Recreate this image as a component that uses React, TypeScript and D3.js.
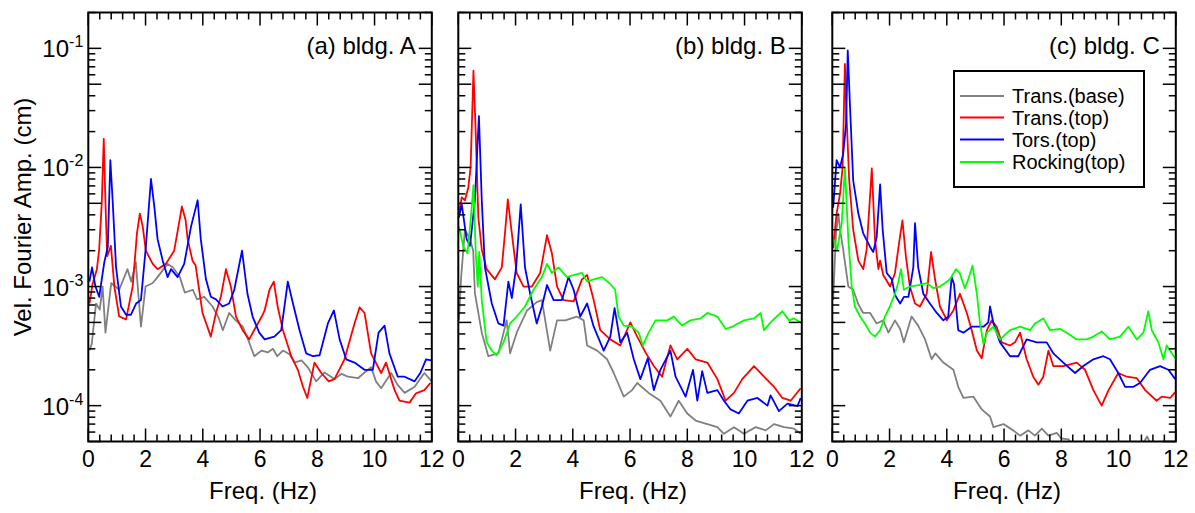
import React from "react";
import * as d3 from "d3";

// [freq (Hz), velocity Fourier amplitude (cm)]
const aBase = [[0.04,2.9e-4],[0.12,3.3e-4],[0.27,7.2e-4],[0.4,6.4e-4],[0.5,1e-3],[0.6,4.1e-4],[0.8,1.07e-3],[1.08,9.4e-4],[1.37,1.4e-3],[1.5,1.1e-3],[1.66,1.6e-3],[1.84,4.6e-4],[2.0,1e-3],[2.25,1.07e-3],[2.42,1.2e-3],[2.77,1.55e-3],[2.95,1.45e-3],[3.2,1.2e-3],[3.37,8.9e-4],[3.65,9.4e-4],[3.8,7.8e-4],[4.05,8.2e-4],[4.34,6.8e-4],[4.55,5.5e-4],[4.7,4.3e-4],[4.92,6e-4],[5.15,5.2e-4],[5.4,4.6e-4],[5.6,3.5e-4],[5.8,2.6e-4],[5.93,2.75e-4],[6.06,2.9e-4],[6.27,2.8e-4],[6.45,3.0e-4],[6.6,2.6e-4],[6.8,2.9e-4],[7.03,2.7e-4],[7.2,2.3e-4],[7.45,2.4e-4],[7.67,2.1e-4],[7.96,1.6e-4],[8.25,1.9e-4],[8.6,1.67e-4],[8.85,1.85e-4],[9.07,1.75e-4],[9.42,1.7e-4],[9.65,1.9e-4],[9.88,2.1e-4],[10.05,1.6e-4],[10.23,1.4e-4],[10.58,1.88e-4],[10.8,1.5e-4],[11.05,1.28e-4],[11.4,1.44e-4],[11.74,1.88e-4],[12,1.6e-4]];
const aTop = [[0.04,7.2e-4],[0.15,1.05e-3],[0.3,1.4e-3],[0.38,2.05e-3],[0.47,5e-3],[0.54,1.74e-2],[0.6,5e-3],[0.66,1.8e-3],[0.79,2.2e-3],[0.91,1e-3],[1.08,5.6e-4],[1.32,5.3e-4],[1.55,1e-3],[1.7,2.8e-3],[1.8,4.1e-3],[1.9,3.2e-3],[2.01,2e-3],[2.25,1.55e-3],[2.42,1.4e-3],[2.71,1.55e-3],[3.0,2e-3],[3.15,3.2e-3],[3.27,4.7e-3],[3.4,3.6e-3],[3.47,2.5e-3],[3.64,1.65e-3],[3.75,1.5e-3],[3.99,6e-4],[4.28,3.8e-4],[4.46,6e-4],[4.63,8.2e-4],[4.81,1.4e-3],[4.98,1e-3],[5.16,5.6e-4],[5.39,4.3e-4],[5.62,3.6e-4],[5.86,4.6e-4],[6.06,5.6e-4],[6.16,6.3e-4],[6.33,9.4e-4],[6.48,1.1e-3],[6.62,6.7e-4],[6.8,4.3e-4],[7.09,2.6e-4],[7.32,2e-4],[7.5,1.44e-4],[7.65,1.16e-4],[7.9,2.3e-4],[8.14,1.88e-4],[8.4,1.6e-4],[8.6,1.67e-4],[8.95,2.45e-4],[9.3,4.9e-4],[9.48,6.7e-4],[9.65,6e-4],[9.88,2.75e-4],[10.23,1.88e-4],[10.4,2.3e-4],[10.7,1.35e-4],[10.87,1.1e-4],[11.22,1.06e-4],[11.45,1.27e-4],[11.74,1.35e-4],[11.95,1.55e-4]];
const aTors = [[0.04,1.1e-3],[0.13,1.45e-3],[0.25,1e-3],[0.38,8.2e-4],[0.56,1.6e-3],[0.68,2.15e-3],[0.77,1.15e-2],[0.85,5.3e-3],[0.97,1.45e-3],[1.14,6.8e-4],[1.32,5.8e-4],[1.49,5.8e-4],[1.67,7.2e-4],[1.84,7.7e-4],[2.01,2.15e-3],[2.19,8e-3],[2.31,4.6e-3],[2.42,2.5e-3],[2.6,1.65e-3],[2.77,1.2e-3],[2.89,1.4e-3],[3.12,1.2e-3],[3.35,1.55e-3],[3.59,3.2e-3],[3.82,5.3e-3],[3.93,2.5e-3],[4.11,1.15e-3],[4.28,8.2e-4],[4.46,7.8e-4],[4.69,6.8e-4],[4.92,7.2e-4],[5.1,9.4e-4],[5.37,2e-3],[5.56,8.7e-4],[5.74,5.6e-4],[5.97,4.1e-4],[6.16,3.6e-4],[6.5,3.8e-4],[6.74,4.3e-4],[6.97,1.1e-3],[7.15,7.2e-4],[7.38,4.3e-4],[7.61,2.75e-4],[7.85,2.6e-4],[8.08,2.65e-4],[8.37,4.9e-4],[8.58,6.3e-4],[8.78,3.6e-4],[9.01,2.45e-4],[9.3,2.3e-4],[9.65,2e-4],[9.94,2e-4],[10.14,4.1e-4],[10.35,4.7e-4],[10.52,2.75e-4],[10.81,1.75e-4],[11.05,1.75e-4],[11.4,1.6e-4],[11.6,1.88e-4],[11.8,2.45e-4],[11.98,2.4e-4]];

const bBase = [[0.02,5.2e-4],[0.1,1.2e-3],[0.23,3e-3],[0.41,2.5e-3],[0.52,2e-3],[0.58,8.8e-4],[0.82,4.1e-4],[1.05,2.6e-4],[1.4,2.75e-4],[1.69,5.2e-4],[1.81,2.75e-4],[2.04,4.1e-4],[2.4,6.3e-4],[2.74,7.4e-4],[2.92,7.7e-4],[3.21,2.9e-4],[3.45,5.2e-4],[3.74,5.2e-4],[4.14,5.6e-4],[4.38,5.2e-4],[4.5,3.2e-4],[4.85,2.9e-4],[5.2,2.45e-4],[5.43,1.88e-4],[5.78,1.19e-4],[6.07,1.35e-4],[6.25,1.55e-4],[6.65,1.28e-4],[7.06,1.1e-4],[7.41,8.1e-5],[7.7,1.1e-4],[8.0,8.6e-5],[8.29,7.5e-5],[8.7,7e-5],[9.05,6.6e-5],[9.28,5.8e-5],[9.63,6.6e-5],[9.98,5.8e-5],[10.39,6.6e-5],[10.74,6.2e-5],[11.03,7e-5],[11.38,6.6e-5],[11.73,6.4e-5],[11.96,5.8e-5]];
const bTop = [[0.02,4.1e-3],[0.12,5.6e-3],[0.23,5.3e-3],[0.35,6.8e-3],[0.43,1e-2],[0.53,6.5e-2],[0.61,1.9e-2],[0.7,3.8e-3],[0.82,2.05e-3],[0.99,1.4e-3],[1.28,1.15e-3],[1.52,1.45e-3],[1.63,2.8e-3],[1.73,5.4e-3],[1.87,2.8e-3],[2.04,1.3e-3],[2.28,1e-3],[2.57,1e-3],[2.86,1.3e-3],[3.1,2.7e-3],[3.27,1.9e-3],[3.45,1e-3],[3.68,7.7e-4],[4.03,7.5e-4],[4.32,1.15e-3],[4.5,1.25e-3],[4.73,7.7e-4],[4.96,4.3e-4],[5.31,3.6e-4],[5.66,3.2e-4],[6.01,5e-4],[6.25,3.8e-4],[6.54,2.8e-4],[6.83,2.15e-4],[7.12,1.75e-4],[7.41,3.2e-4],[7.65,2.45e-4],[8.0,3e-4],[8.29,2.45e-4],[8.7,2.3e-4],[9.05,1.67e-4],[9.34,1.1e-4],[9.63,1.28e-4],[9.92,1.67e-4],[10.33,2.15e-4],[10.68,1.75e-4],[11.03,1.44e-4],[11.32,1.16e-4],[11.61,1.1e-4],[11.96,1.4e-4]];
const bTors = [[0.02,3.8e-3],[0.12,4.9e-3],[0.29,2.5e-3],[0.41,2.2e-3],[0.58,5.3e-3],[0.72,2.7e-2],[0.82,5.3e-3],[0.93,1.45e-3],[1.17,7.2e-4],[1.4,4.9e-4],[1.58,4.7e-4],[1.75,1.1e-3],[1.87,8e-4],[2.02,1.45e-3],[2.18,4.9e-3],[2.33,1.45e-3],[2.51,8.7e-4],[2.74,4.9e-4],[2.92,6.8e-4],[3.1,1.03e-3],[3.33,7.7e-4],[3.62,7.7e-4],[3.85,1.2e-3],[4.03,9.4e-4],[4.26,5.6e-4],[4.5,7.2e-4],[4.73,4.6e-4],[5.08,2.9e-4],[5.31,3.8e-4],[5.46,6.6e-4],[5.66,3.4e-4],[5.9,4.1e-4],[6.13,2.45e-4],[6.36,1.67e-4],[6.62,2.5e-4],[6.83,1.35e-4],[7.06,2e-4],[7.41,2.9e-4],[7.59,1.75e-4],[7.94,1.19e-4],[8.2,2e-4],[8.35,1.1e-4],[8.52,1.95e-4],[8.7,1.28e-4],[9.05,1.35e-4],[9.28,1.1e-4],[9.51,9.3e-5],[9.8,8.6e-5],[10.1,1.1e-4],[10.45,1.16e-4],[10.8,1e-4],[10.91,1.22e-4],[11.2,9e-5],[11.5,1.04e-4],[11.85,9.9e-5],[11.96,1.16e-4]];
const bRock = [[0.02,3.2e-3],[0.18,2.15e-3],[0.32,1.9e-3],[0.44,3.8e-3],[0.53,7.1e-3],[0.61,1.9e-3],[0.68,1e-3],[0.73,1.95e-3],[0.82,7.7e-4],[0.99,3.4e-4],[1.17,2.9e-4],[1.34,2.65e-4],[1.58,3.4e-4],[1.81,4.9e-4],[2.04,5.6e-4],[2.33,6.8e-4],[2.63,9.4e-4],[2.92,1.2e-3],[3.1,1.55e-3],[3.27,1.3e-3],[3.5,1.45e-3],[3.8,1.2e-3],[4.03,1.25e-3],[4.32,1.3e-3],[4.5,1.1e-3],[4.73,1.15e-3],[5.02,1.2e-3],[5.31,1.05e-3],[5.48,9.4e-4],[5.6,5.6e-4],[5.78,4.7e-4],[6.07,4.6e-4],[6.3,4.1e-4],[6.45,3.2e-4],[6.65,4.1e-4],[6.89,5.2e-4],[7.3,5.2e-4],[7.53,5.6e-4],[7.82,4.7e-4],[8.11,5.2e-4],[8.46,5.4e-4],[8.7,6e-4],[9.05,5.6e-4],[9.34,4.4e-4],[9.57,4.6e-4],[9.98,5.2e-4],[10.33,5.4e-4],[10.56,6e-4],[10.68,4.3e-4],[10.91,5e-4],[11.32,6.2e-4],[11.56,5.2e-4],[11.73,5.4e-4],[11.96,5e-4]];

const cBase = [[0.03,7.7e-4],[0.13,2.8e-3],[0.21,4.1e-3],[0.29,2.8e-3],[0.38,2.05e-3],[0.56,1e-3],[0.73,9.4e-4],[0.91,7.1e-4],[1.08,6e-4],[1.32,6e-4],[1.55,4.9e-4],[1.78,5.2e-4],[1.96,4.1e-4],[2.19,5.2e-4],[2.37,4.4e-4],[2.5,3.4e-4],[2.77,5.6e-4],[3.0,4.7e-4],[3.24,3.6e-4],[3.47,2.45e-4],[3.6,2.75e-4],[3.88,2.3e-4],[4.23,2e-4],[4.4,1.44e-4],[4.58,1.16e-4],[4.93,1.19e-4],[5.22,9.3e-5],[5.51,8.1e-5],[5.63,6.6e-5],[5.98,7e-5],[6.32,6.2e-5],[6.56,5.6e-5],[6.85,6.2e-5],[7.08,5.6e-5],[7.32,6.4e-5],[7.55,5.6e-5],[7.84,5.9e-5],[8.0,5.3e-5],[8.26,5.2e-5],[8.4,4.5e-5],[8.7,4.2e-5],[9.2,4.0e-5],[9.7,4.1e-5],[10.2,3.9e-5],[10.7,4.2e-5],[11.0,5.5e-5],[11.2,4.3e-5],[11.6,4.0e-5],[12,4.1e-5]];
const cTop = [[0.03,2.1e-3],[0.15,4.1e-3],[0.27,6e-3],[0.36,1e-2],[0.44,7.4e-2],[0.5,2.6e-2],[0.59,7.8e-3],[0.73,3e-3],[0.91,1.65e-3],[1.08,1.4e-3],[1.2,2.05e-3],[1.38,9.8e-3],[1.49,2.5e-3],[1.61,1.4e-3],[1.67,1.65e-3],[1.78,1.25e-3],[2.02,1e-3],[2.19,1.3e-3],[2.33,2.3e-3],[2.45,3.6e-3],[2.57,1.8e-3],[2.71,1e-3],[2.89,7.2e-4],[3.06,6.8e-4],[3.3,8.7e-4],[3.45,1.95e-3],[3.59,1.15e-3],[3.76,6.8e-4],[3.94,5.6e-4],[4.0,5.2e-4],[4.23,6.3e-4],[4.46,8.7e-4],[4.7,6e-4],[4.87,4.3e-4],[5.05,2.9e-4],[5.22,2.5e-4],[5.4,4.3e-4],[5.57,5.2e-4],[5.74,4.6e-4],[5.92,3.4e-4],[6.21,3.2e-4],[6.38,3.4e-4],[6.56,4.1e-4],[6.79,2.45e-4],[7.02,1.75e-4],[7.2,1.5e-4],[7.37,1.75e-4],[7.55,2.9e-4],[7.72,2.15e-4],[8.07,2.15e-4],[8.54,2.3e-4],[8.83,2e-4],[9.12,1.35e-4],[9.41,1e-4],[9.65,1.35e-4],[9.99,1.88e-4],[10.29,1.75e-4],[10.64,1.7e-4],[10.93,1.35e-4],[11.33,1.1e-4],[11.51,1.19e-4],[11.8,1.16e-4],[11.98,1.3e-4]];
const cTors = [[0.03,4.6e-3],[0.15,1.15e-2],[0.27,1e-2],[0.38,1.3e-2],[0.48,2.3e-2],[0.54,9.6e-2],[0.62,3.2e-2],[0.73,7.8e-3],[0.91,4.1e-3],[1.08,2.8e-3],[1.32,2.15e-3],[1.43,1.95e-3],[1.55,2.6e-3],[1.67,7.2e-3],[1.76,3e-3],[1.9,1.3e-3],[2.08,1.15e-3],[2.19,8.5e-4],[2.37,7.2e-4],[2.5,8.2e-4],[2.66,8.2e-4],[2.83,1.45e-3],[2.89,3.4e-3],[3.0,1.45e-3],[3.18,8.7e-4],[3.41,7.2e-4],[3.65,6e-4],[3.88,5.2e-4],[4.05,5.6e-4],[4.17,1.2e-3],[4.25,1.05e-3],[4.4,4.3e-4],[4.58,4.1e-4],[4.87,4.6e-4],[5.28,4.6e-4],[5.45,5e-4],[5.51,6.8e-4],[5.63,4.9e-4],[5.86,3.4e-4],[6.21,2.6e-4],[6.5,2.6e-4],[6.79,3.6e-4],[7.14,3.4e-4],[7.49,3.4e-4],[7.72,2.75e-4],[8.07,2.3e-4],[8.48,1.88e-4],[8.77,2.15e-4],[9.12,2.45e-4],[9.47,2.6e-4],[9.7,2.45e-4],[9.99,1.88e-4],[10.23,1.44e-4],[10.52,1.44e-4],[10.75,1.55e-4],[11.1,2e-4],[11.45,2.15e-4],[11.74,2e-4],[11.98,1.67e-4]];
const cRock = [[0.03,2.5e-3],[0.17,2.05e-3],[0.33,3.4e-3],[0.44,1e-2],[0.56,2.5e-3],[0.68,1e-3],[0.79,6.8e-4],[0.97,5.6e-4],[1.14,4.9e-4],[1.32,4.1e-4],[1.49,3.8e-4],[1.67,4.3e-4],[1.84,5.6e-4],[2.01,6.8e-4],[2.19,8.7e-4],[2.3,1.07e-3],[2.4,1.4e-3],[2.5,9.4e-4],[2.71,1e-3],[3.0,1.03e-3],[3.3,1.07e-3],[3.53,9.7e-4],[3.76,1e-3],[3.94,1.07e-3],[4.11,1.15e-3],[4.32,1.4e-3],[4.45,1.3e-3],[4.63,9.7e-4],[4.75,1.15e-3],[4.9,1.5e-3],[5.05,8.7e-4],[5.16,4.9e-4],[5.28,3.3e-4],[5.4,4.1e-4],[5.63,4.6e-4],[5.86,3.6e-4],[6.21,4.3e-4],[6.56,4.6e-4],[6.91,4.3e-4],[7.08,4.9e-4],[7.37,5.4e-4],[7.61,4.3e-4],[7.96,4.4e-4],[8.19,4.1e-4],[8.54,3.6e-4],[8.89,3.6e-4],[9.12,3.8e-4],[9.41,4.2e-4],[9.7,3.6e-4],[10.05,3.8e-4],[10.34,4.6e-4],[10.64,3.6e-4],[10.87,4.1e-4],[11.04,6.2e-4],[11.16,4.3e-4],[11.39,3.4e-4],[11.57,2.45e-4],[11.68,3.2e-4],[11.98,2.5e-4]];

const seriesNames = ["Trans.(base)", "Trans.(top)", "Tors.(top)", "Rocking(top)"];
const seriesColors = ["#808080", "#ff0000", "#0000ff", "#00ff00"];
const panelTitles = ["(a) bldg. A", "(b) bldg. B", "(c) bldg. C"];
const panelData = [
  [aBase, aTop, aTors, null],
  [bBase, bTop, bTors, bRock],
  [cBase, cTop, cTors, cRock],
];
const xTickLabels = [0, 2, 4, 6, 8, 10, 12];
const yTickExps = [-1, -2, -3, -4];

const FONT = "'Liberation Sans', Arial, Helvetica, sans-serif";
const W = 1195, H = 513;
const plotTop = 12.5, plotBottom = 441.5;
const panelLeft = [88.3, 458.3, 832.3];
const panelW = 343.5;
const MAJ = 13, MIN = 7;

function Panel({ idx }: { idx: number }) {
  const x0 = panelLeft[idx], x1 = x0 + panelW;
  const x = d3.scaleLinear().domain([0, 12]).range([x0, x1]);
  const y = d3.scaleLog().domain([5e-5, 0.2]).range([plotBottom, plotTop]);
  const line = d3.line<number[]>().x((d) => x(d[0])).y((d) => y(d[1]));

  // x ticks: minor every 0.4 Hz, major every 2 Hz
  const xTicks = d3.range(0, 31).map((i) => ({ v: (i * 2) / 5, major: i % 5 === 0 }));
  // log ticks: major at 1 and 5 of each decade
  const yTicks: { v: number; major: boolean }[] = [];
  for (let k = -5; k <= -1; k++) {
    for (let m = 1; m <= 9; m++) {
      const v = m * Math.pow(10, k);
      if (v >= 5e-5 * 0.999 && v <= 0.2 * 1.001) yTicks.push({ v, major: m === 1 || m === 5 });
    }
  }
  const clipId = `clip${idx}`;
  return (
    <g>
      <clipPath id={clipId}>
        <rect x={x0} y={plotTop} width={panelW} height={plotBottom - plotTop} />
      </clipPath>
      <g clipPath={`url(#${clipId})`}>
        {panelData[idx].map((s, i) =>
          s ? (
            <path key={i} d={line(s as number[][]) || ""} fill="none" stroke={seriesColors[i]} strokeWidth={1.8} strokeLinejoin="round" />
          ) : null
        )}
      </g>
      <g stroke="#000" strokeWidth={1.5}>
        {xTicks.map((t, i) => {
          const len = t.major ? MAJ : MIN;
          const px = x(t.v);
          return (
            <g key={"x" + i}>
              <line x1={px} x2={px} y1={plotBottom} y2={plotBottom - len} />
              <line x1={px} x2={px} y1={plotTop} y2={plotTop + len} />
            </g>
          );
        })}
        {yTicks.map((t, i) => {
          const len = t.major ? MAJ : MIN;
          const py = y(t.v);
          return (
            <g key={"y" + i}>
              <line x1={x0} x2={x0 + len} y1={py} y2={py} />
              <line x1={x1} x2={x1 - len} y1={py} y2={py} />
            </g>
          );
        })}
      </g>
      <rect x={x0} y={plotTop} width={panelW} height={plotBottom - plotTop} fill="none" stroke="#000" strokeWidth={2} />
      {xTickLabels.map((t) => (
        <text key={t} x={x(t)} y={467} textAnchor="middle" fontSize={23} fontFamily={FONT}>
          {t}
        </text>
      ))}
      <text x={(x0 + x1) / 2 + 3} y={499} textAnchor="middle" fontSize={24} fontFamily={FONT}>
        Freq. (Hz)
      </text>
      <text x={x1 - 16} y={54} textAnchor="end" fontSize={24} fontFamily={FONT}>
        {panelTitles[idx]}
      </text>
      {idx === 0 &&
        yTickExps.map((e) => (
          <text key={e} x={x0 - 5} y={y(Math.pow(10, e)) + 9} textAnchor="end" fontSize={24} fontFamily={FONT}>
            10
            <tspan dy={-10} fontSize={16}>
              {e}
            </tspan>
          </text>
        ))}
    </g>
  );
}

function Legend() {
  const bx = 954, by = 71, bw = 190, bh = 116;
  const rows = [96, 117.5, 139.5, 162];
  return (
    <g>
      <rect x={bx} y={by} width={bw} height={bh} fill="#fff" stroke="#000" strokeWidth={2} />
      {seriesNames.map((n, i) => (
        <g key={n}>
          <line x1={960} x2={1004} y1={rows[i]} y2={rows[i]} stroke={seriesColors[i]} strokeWidth={1.8} />
          <text x={1012} y={rows[i] + 7} fontSize={20} fontFamily={FONT}>
            {n}
          </text>
        </g>
      ))}
    </g>
  );
}

export default function App() {
  return (
    <svg width={W} height={H} style={{ position: "absolute", left: 0, top: 0, background: "#fff" }}>
      <rect width={W} height={H} fill="#fff" />
      {[0, 1, 2].map((i) => (
        <Panel key={i} idx={i} />
      ))}
      <Legend />
      <text transform="translate(31,217) rotate(-90)" textAnchor="middle" fontSize={24} fontFamily={FONT}>
        Vel. Fourier Amp. (cm)
      </text>
    </svg>
  );
}
